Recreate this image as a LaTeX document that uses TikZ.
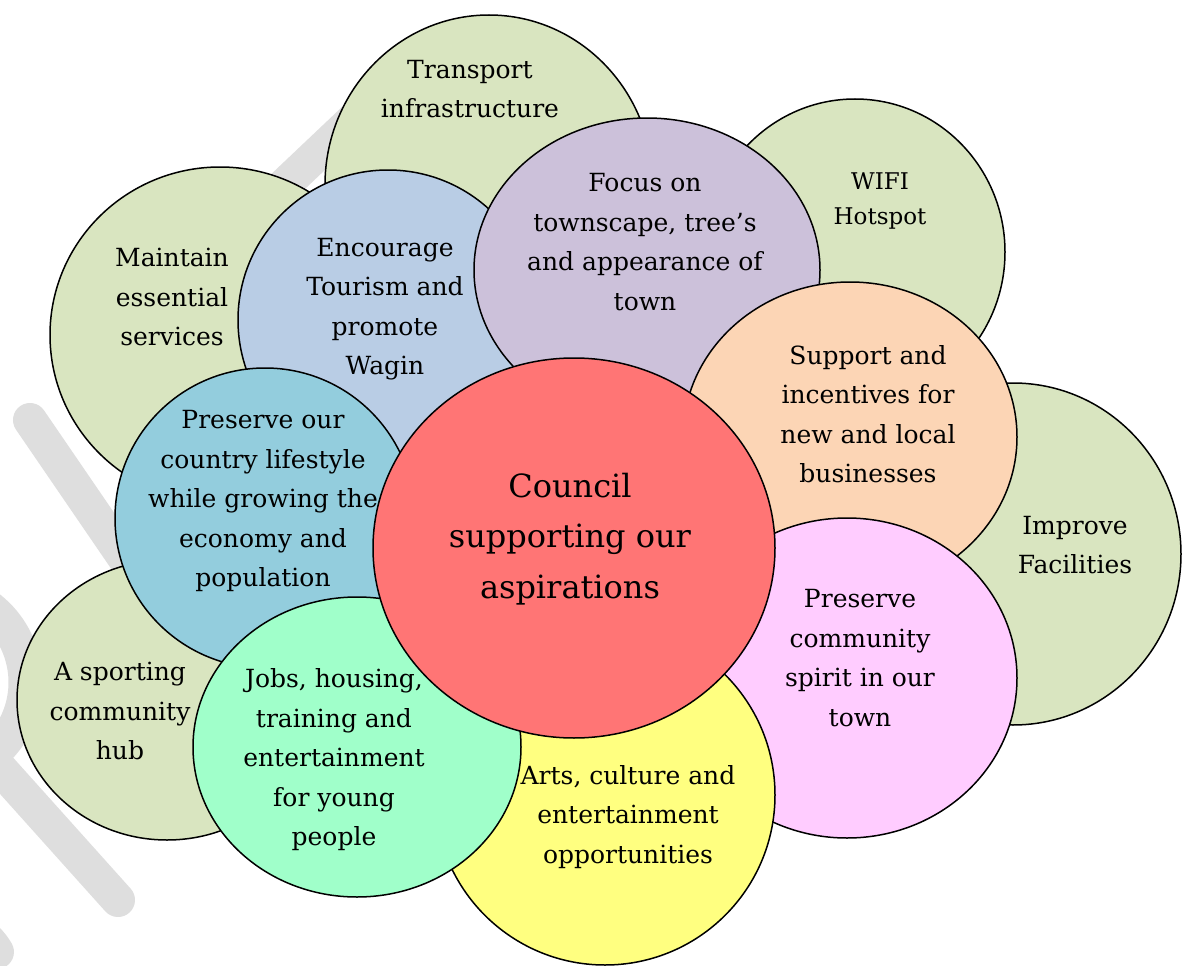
\documentclass[tikz,border=0pt]{standalone}
\usepackage{fontspec}
\setmainfont{DejaVu Serif}
\usetikzlibrary{shapes.geometric}
\definecolor{cgreen}{HTML}{D9E5C0}
\definecolor{cblue}{HTML}{B9CDE5}
\definecolor{cpurple}{HTML}{CCC1DA}
\definecolor{cpeach}{HTML}{FCD5B5}
\definecolor{cteal}{HTML}{93CDDD}
\definecolor{cpink}{HTML}{FFCCFF}
\definecolor{cyellow}{HTML}{FFFF80}
\definecolor{cmint}{HTML}{A0FFCA}
\definecolor{cred}{HTML}{FF7575}
\definecolor{wmgray}{HTML}{DEDEDE}
\begin{document}
\begin{tikzpicture}[x=1pt,y=-1pt,
  bub/.style={ellipse, draw=black, line width=1.5pt, inner sep=0pt},
  lbl/.style={align=center, inner sep=0pt, font=\fontsize{25}{39.5}\selectfont},
  wm/.style={draw=wmgray, line width=34pt, line cap=round}]
\useasboundingbox (0,0) rectangle (1187,966);
\fill[white] (0,0) rectangle (1187,966);
% watermark fragments
\coordinate (w1a) at (30,420); \coordinate (w1b) at (160,610);
\coordinate (w2a) at (-30,735); \coordinate (w2b) at (118,900);
\coordinate (w3a) at (372,102); \coordinate (w3b) at (200,265);
\draw[wm] (w1a) -- (w1b);
\draw[wm] (w2a) -- (w2b);
\draw[wm] (w3a) -- (w3b);
\draw[wm] (-22,600) arc[start angle=-60, end angle=60, radius=95];
\draw[wm] (-85,930) arc[start angle=-120, end angle=-30, radius=60];
% green outer bubbles
\node[bub, fill=cgreen, minimum width=328pt, minimum height=340pt] (transport) at (489,185) {};
\node[lbl] (ttransport) at (470,89) {Transport\\infrastructure};
\node[bub, fill=cgreen, minimum width=300pt, minimum height=306pt] (wifi) at (855,252) {};
\node[lbl, font=\fontsize{23}{35}\selectfont] (twifi) at (880,201) {WIFI\\Hotspot};
\node[bub, fill=cgreen, minimum width=340pt, minimum height=336pt] (maintain) at (220,335) {};
\node[lbl] (tmaintain) at (172,297) {Maintain\\essential\\services};
\node[bub, fill=cgreen, minimum width=336pt, minimum height=342pt] (improve) at (1013,554) {};
\node[lbl] (timprove) at (1075,545) {Improve\\Facilities};
\node[bub, fill=cgreen, minimum width=300pt, minimum height=280pt] (sporting) at (167,700) {};
\node[lbl] (tsporting) at (120,711) {A sporting\\community\\hub};
% coloured bubbles
\node[bub, fill=cblue, minimum width=300pt, minimum height=300pt] (tourism) at (388,320) {};
\node[lbl] (ttourism) at (385,309) {Encourage\\Tourism and\\promote\\Wagin};
\node[bub, fill=cpurple, minimum width=346pt, minimum height=304pt] (focus) at (647,270) {};
\node[lbl] (tfocus) at (645,242) {Focus on\\townscape, tree’s\\and appearance of\\town};
\node[bub, fill=cpeach, minimum width=334pt, minimum height=310pt] (support) at (850,437) {};
\node[lbl] (tsupport) at (868,414) {Support and\\incentives for\\new and local\\businesses};
\node[bub, fill=cpink, minimum width=340pt, minimum height=320pt] (spirit) at (847,678) {};
\node[lbl] (tspirit) at (860,658) {Preserve\\community\\spirit in our\\town};
\node[bub, fill=cyellow, minimum width=340pt, minimum height=340pt] (arts) at (605,795) {};
\node[lbl] (tarts) at (628,817) {Arts, culture and\\entertainment\\opportunities};
\node[bub, fill=cteal, minimum width=300pt, minimum height=300pt] (country) at (265,518) {};
\node[lbl] (tcountry) at (263,501) {Preserve our\\country lifestyle\\while growing the\\economy and\\population};
\node[bub, fill=cmint, minimum width=328pt, minimum height=300pt] (jobs) at (357,747) {};
\node[lbl] (tjobs) at (334,760) {Jobs, housing,\\training and\\entertainment\\for young\\people};
% centre
\node[bub, fill=cred, minimum width=402pt, minimum height=380pt] (council) at (574,548) {};
\node[lbl, font=\fontsize{32}{50.5}\selectfont] (tcouncil) at (570,539) {Council\\supporting our\\aspirations};
\end{tikzpicture}
\end{document}
